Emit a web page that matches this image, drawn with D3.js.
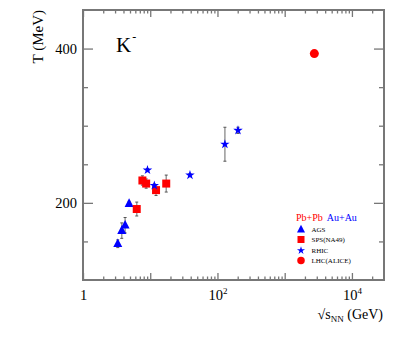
<!DOCTYPE html>
<html><head><meta charset="utf-8">
<script src="https://cdn.jsdelivr.net/npm/d3@7"></script>
<style>body{margin:0;background:#fff}svg{display:block}</style>
</head><body>
<svg id="c" width="415" height="351"></svg>
<script>
// ---- data ----
const agsE = [3.29, 3.77, 4.23, 4.85];
const agsT = [147, 164, 171, 199];
const agsErr = [5, 10, 10, 3];
const spsE = [6.3, 7.65, 8.7, 12.2, 17.3];
const spsT = [192, 229, 225, 216.5, 225];
const spsErr = [9, 6, 6, 7, 11];
const rhicE = [9.1, 11.5, 39, 129, 202];
const rhicT = [242.5, 222.5, 236, 276, 294];
const rhicErr = [2, 2, 2, 22, 4];
const lhcE = [2760];
const lhcT = [393.5];
const lhcErr = [3];
const xMajor = [1, 10, 100, 1000, 10000];
const xLabels = {1: "1", 100: "2", 10000: "4"};
const yMajor = [200, 400];
const yMinor = [150, 250, 300, 350];
const legendNames = ["AGS", "SPS(NA49)", "RHIC", "LHC(ALICE)"];

const svg = d3.select("#c");
const L = 83, R = 384, T = 10, B = 280;
const x = d3.scaleLog().domain([1, 3e4]).range([L, R]);
const y = d3.scaleLinear().domain([100, 450]).range([B, T]);
const axC = "#777";
const FF = "'Liberation Serif','Times New Roman',Times,serif";

const xMinor = [];
for (let d = 1; d <= 10000; d *= 10) for (let k = 2; k <= 9; k++) if (d * k < 3e4) xMinor.push(d * k);

const g = svg.append("g");
function axisG(axis, tr) {
  const a = g.append("g").attr("transform", tr).call(axis);
  a.attr("font-family", FF);
  a.select(".domain").remove();
  a.selectAll("line").attr("stroke", axC).attr("stroke-width", 1.3);
  return a;
}
axisG(d3.axisBottom(x).tickValues(xMinor).tickSize(-3.5).tickFormat(""), `translate(0,${B})`);
axisG(d3.axisTop(x).tickValues(xMinor).tickSize(-3.5).tickFormat(""), `translate(0,${T})`);
axisG(d3.axisTop(x).tickValues(xMajor).tickSize(-7).tickFormat(""), `translate(0,${T})`);
const xb = axisG(d3.axisBottom(x).tickValues(xMajor).tickSize(-7).tickPadding(12).tickFormat(""), `translate(0,${B})`);
xb.selectAll(".tick").each(function(d) {
  const t = d3.select(this).select("text");
  t.attr("font-size", 14.5).attr("fill", "#000").attr("y", 20).attr("dy", 0);
  if (!(d in xLabels)) return;
  if (d === 1) { t.text("1"); }
  else {
    t.text("10");
    t.append("tspan").attr("font-size", 9).attr("dy", -6).text(xLabels[d]);
  }
});
axisG(d3.axisLeft(y).tickValues(yMinor).tickSize(-5).tickFormat(""), `translate(${L},0)`);
axisG(d3.axisRight(y).tickValues(yMinor).tickSize(-5).tickFormat(""), `translate(${R},0)`);
axisG(d3.axisRight(y).tickValues(yMajor).tickSize(-10).tickFormat(""), `translate(${R},0)`);
const yl = axisG(d3.axisLeft(y).tickValues(yMajor).tickSize(-10).tickPadding(6).tickFormat(d3.format("d")), `translate(${L},0)`);
yl.selectAll("text").attr("font-size", 14.5).attr("fill", "#000").attr("x", -6);

g.append("rect").attr("x", L).attr("y", T).attr("width", R - L).attr("height", B - T)
  .attr("fill", "none").attr("stroke", axC).attr("stroke-width", 2);

svg.append("text").attr("transform", "translate(43,10) rotate(-90)").attr("text-anchor", "end")
  .attr("font-size", 15).text("T (MeV)");
const xt = svg.append("text").attr("x", 383).attr("y", 319).attr("text-anchor", "end").attr("font-size", 14);
xt.append("tspan").text("√");
xt.append("tspan").text("s");
xt.append("tspan").attr("font-size", 9).attr("dy", 3).text("NN");
xt.append("tspan").attr("dy", -3).text(" (GeV)");

const kt = svg.append("text").attr("x", 116).attr("y", 52).attr("font-size", 21).text("K");
kt.append("tspan").attr("font-size", 12).attr("dy", -11).attr("dx", 1).text("-");

function tri(s) { const h = s * 0.95; return `M0,${-h * 0.62}L${s / 2},${h * 0.38}L${-s / 2},${h * 0.38}Z`; }
function sq(s) { return `M${-s / 2},${-s / 2}h${s}v${s}h${-s}Z`; }
function circ(s) { return d3.symbol(d3.symbolCircle, Math.PI * s * s / 4)(); }
function star(s) { return d3.symbol(d3.symbolStar, (s / 2) * (s / 2) / 0.8908)(); }

function errBars(E, Tv, Er) {
  E.forEach((e, i) => {
    const cx = x(e), y1 = y(Tv[i] + Er[i]), y2 = y(Tv[i] - Er[i]);
    g.append("line").attr("x1", cx).attr("x2", cx).attr("y1", y1).attr("y2", y2).attr("stroke", "#999").attr("stroke-width", 1.5);
    [y1, y2].forEach(yy => g.append("line").attr("x1", cx - 1.5).attr("x2", cx + 1.5).attr("y1", yy).attr("y2", yy).attr("stroke", "#555").attr("stroke-width", 1));
  });
}
function pts(E, Tv, path, color) {
  g.selectAll(null).data(E).enter().append("path")
    .attr("d", path).attr("fill", color)
    .attr("transform", (d, i) => `translate(${x(d)},${y(Tv[i])})`);
}
errBars(agsE, agsT, agsErr);
errBars(spsE, spsT, spsErr);
errBars(rhicE, rhicT, rhicErr);
pts(agsE, agsT, tri(9), "#0000ff");
pts(spsE, spsT, sq(8), "#ff0000");
pts(rhicE, rhicT, star(10), "#0000ff");
pts(lhcE, lhcT, circ(9), "#ff0000");

const lg = svg.append("g");
const lt = lg.append("text").attr("x", 296).attr("y", 221).attr("font-size", 10);
lt.append("tspan").attr("fill", "#ff0000").text("Pb+Pb");
lt.append("tspan").attr("fill", "#0000ff").attr("dx", 4).text("Au+Au");
const lShapes = [[tri(8), "#0000ff"], [sq(7), "#ff0000"], [star(8.5), "#0000ff"], [circ(7.5), "#ff0000"]];
const lRows = [229.5, 239.5, 250.5, 260.5];
legendNames.forEach((n, i) => {
  lg.append("path").attr("d", lShapes[i][0]).attr("fill", lShapes[i][1]).attr("transform", `translate(301,${lRows[i]})`);
  lg.append("text").attr("x", 311.5).attr("y", lRows[i] + 2.5).attr("font-size", 7).text(n);
});
svg.selectAll("text").attr("font-family", FF);
</script>
</body></html>
